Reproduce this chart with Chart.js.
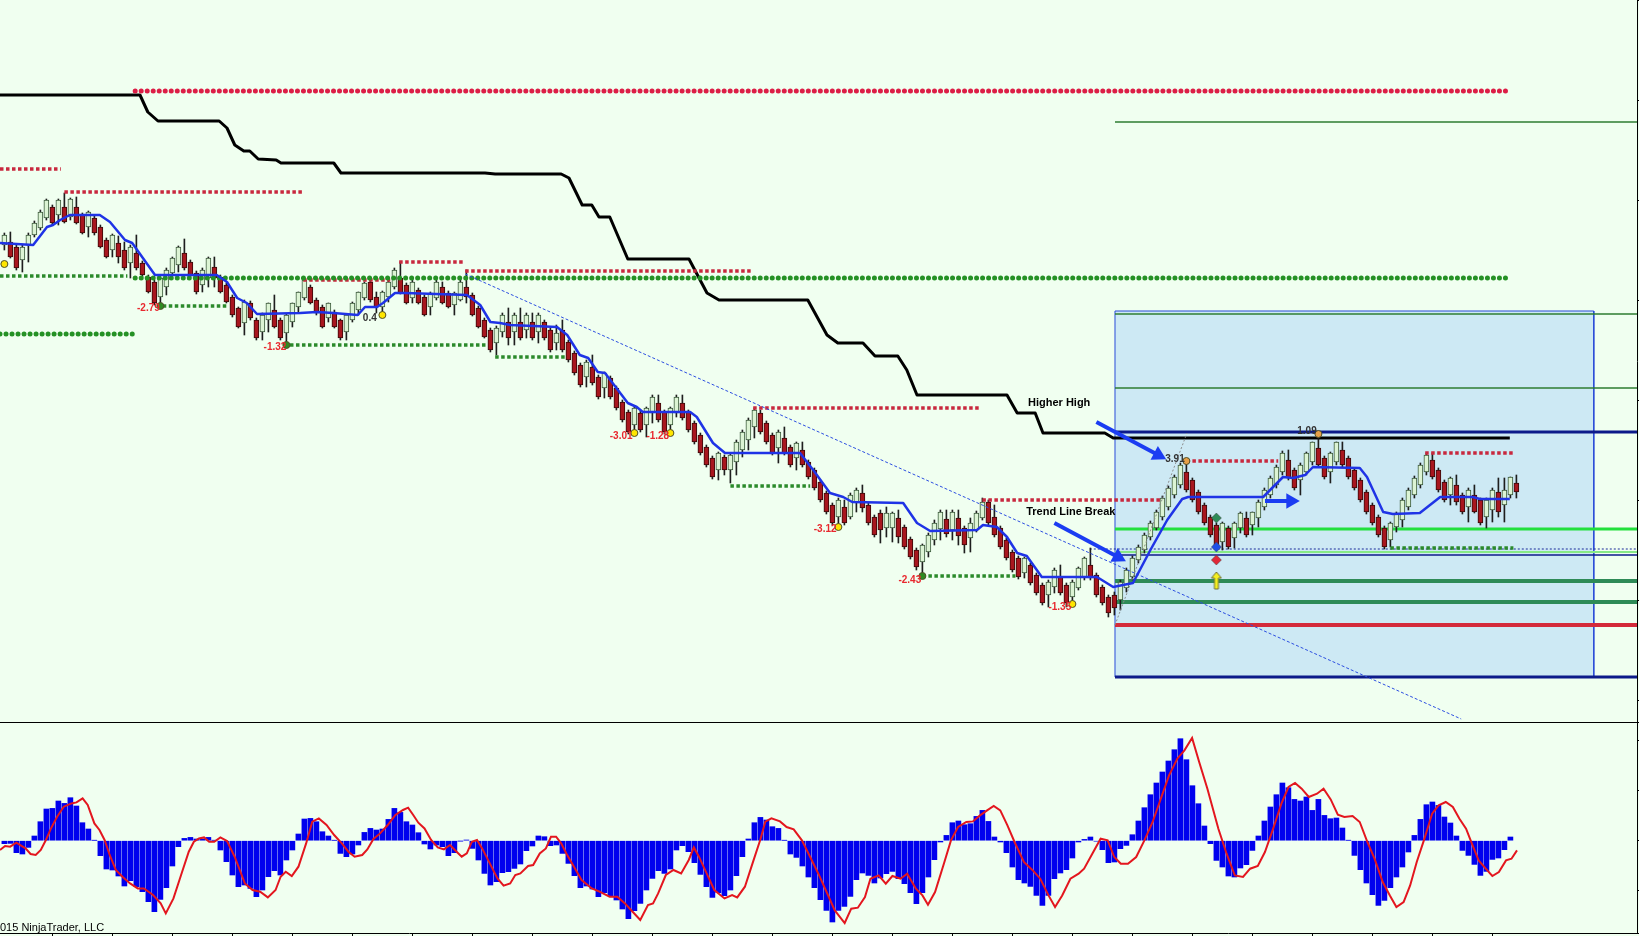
<!DOCTYPE html>
<html>
<head>
<meta charset="utf-8">
<title>Trend Line Break</title>
<script src="https://cdn.jsdelivr.net/npm/chart.js@4.4.1/dist/chart.umd.min.js"></script>
<style>
  html, body { margin: 0; padding: 0; background: #f0fff0; overflow: hidden; }
  #price { position: absolute; left: 0; top: 0; }
  #osc { position: absolute; left: 0; top: 722px; }
  #sep { position: absolute; left: 0; top: 722px; width: 1639px; height: 1px; background: #000; }
</style>
</head>
<body>
<canvas id="price" width="1639" height="722"></canvas>
<canvas id="osc" width="1639" height="214"></canvas>
<div id="sep"></div>
<script>
// ---- price bars (bar index 0..252) ----
const openP = [
  755,758,753,740,755,765,772,782,793,785, 793,783,793,785,773,782,773,760,750,757,
  750,737,747,737,723,718,703,713,727,735, 747,738,727,715,722,733,723,715,703,692,
  677,697,680,668,680,690,680,667,678,693, 702,713,700,693,682,688,680,668,680,690,
  702,718,703,693,703,713,722,715,702,710, 703,693,702,713,707,695,700,713,705,692,
  680,670,657,668,678,668,678,670,678,668, 678,670,657,670,658,647,635,623,633,623,
  612,622,612,598,588,575,587,575,587,597, 588,575,587,597,588,577,565,553,542,530,
  543,530,538,550,560,573,587,577,565,552, 562,553,542,550,538,530,518,507,495,483,
  493,483,498,507,495,483,487,472,472,482, 473,461,450,438,448,460,471,481,470,482,
  472,462,470,482,498,483,472,460,448,442, 427,435,425,415,405,413,423,415,403,412,
  423,435,425,413,403,405,400,412,423,440, 450,463,472,483,493,505,515,528,520,508,
  495,483,475,458,472,462,472,482,475,482, 493,505,515,528,540,530,520,528,538,552,
  542,528,538,550,542,530,520,508,495,483, 472,460,473,480,493,505,515,528,540,530,
  518,505,515,505,493,505,500,483,490,508, 495,505,517
];
const highP = [
  767,768,755,755,767,779,790,801,795,801, 807,802,803,787,789,784,775,762,766,764,
  758,755,765,739,725,720,722,732,743,754, 761,740,729,732,743,743,725,717,705,693,
  700,699,682,687,697,705,682,686,697,708, 722,715,702,695,697,690,681,685,698,708,
  718,720,708,709,722,732,738,717,722,712, 705,708,720,718,709,708,720,730,707,694,
  682,672,674,687,692,687,692,687,687,687, 680,672,675,680,660,649,637,640,645,625,
  628,624,614,600,590,593,589,593,605,605, 590,593,605,605,590,579,567,555,544,548,
  545,547,560,570,582,592,590,579,567,570, 573,555,558,558,540,532,520,509,497,502,
  500,507,512,515,497,485,490,493,488,490, 475,463,452,456,467,480,490,490,490,490,
  474,482,489,502,500,495,474,462,450,444, 443,437,427,417,420,432,435,417,420,433,
  443,452,427,415,405,408,420,432,444,455, 467,479,490,504,514,525,537,539,522,510,
  497,485,477,478,474,478,488,488,488,500, 512,524,535,549,550,532,537,548,558,566,
  544,548,558,558,544,532,522,510,497,485, 474,478,488,502,512,524,537,547,547,532,
  520,523,525,507,512,515,502,502,512,522, 522,523,525
];
const lowP = [
  750,742,730,728,738,763,770,780,775,775, 777,780,776,766,763,765,752,742,743,737,
  730,722,730,723,707,695,695,705,725,728, 730,723,706,708,713,713,707,697,683,672,
  665,680,660,660,668,672,660,652,673,687, 700,696,685,672,678,672,660,660,678,685,
  700,698,687,687,698,711,706,696,697,696, 684,685,700,696,692,685,699,697,684,672,
  662,648,645,663,655,655,660,662,660,657, 660,648,650,648,638,625,613,613,615,601,
  602,601,590,578,566,568,568,563,577,578, 566,567,583,580,568,556,545,533,521,520,
  525,517,525,543,550,562,566,556,545,537, 545,533,530,533,521,510,498,486,475,473,
  475,481,488,488,475,463,457,463,458,457, 451,441,430,424,443,455,460,463,460,455,
  447,448,468,480,475,463,451,440,428,421, 422,415,405,395,393,407,405,393,396,410,
  420,420,403,395,383,385,390,408,420,437, 447,460,470,480,490,502,512,508,498,486,
  475,463,451,450,451,452,467,463,465,473, 490,502,512,525,520,510,505,525,535,533,
  521,517,535,533,521,510,498,486,475,463, 451,453,468,473,490,502,512,525,521,508,
  498,495,495,486,478,487,475,472,478,483, 478,502,502
];
const closeP = [
  765,743,732,753,765,777,788,800,777,800, 778,801,777,767,788,767,753,743,765,743,
  732,753,732,725,708,697,722,730,742,753, 732,725,708,730,742,722,708,698,685,673,
  698,682,662,685,697,673,662,685,697,708, 720,697,687,673,697,673,662,685,697,708,
  717,700,693,708,718,730,707,697,718,697, 685,707,718,697,693,707,718,703,685,673,
  663,650,672,685,662,685,662,685,662,685, 662,650,667,650,640,627,615,638,617,603,
  627,603,592,580,568,592,570,592,603,580, 568,592,603,582,570,558,547,535,523,547,
  530,545,558,568,580,590,568,558,547,568, 547,535,557,535,523,512,500,488,477,500,
  477,505,510,492,477,465,470,487,487,463, 453,443,433,455,465,477,488,466,488,464,
  455,477,487,498,477,465,453,442,430,423, 442,417,407,397,418,430,407,397,418,432,
  442,422,405,397,387,392,418,430,442,453, 465,477,488,502,512,523,535,510,500,488,
  477,465,453,477,453,477,487,465,488,498, 510,522,533,547,522,512,535,547,558,535,
  523,547,558,535,523,512,500,488,477,465, 453,477,487,500,510,522,535,545,523,510,
  500,522,498,488,510,488,477,500,510,488, 510,523,508
];

// moving average (blue) vertices: bar index / price
const maX = [-0.73,4.8,7.1,8.1,9.3,10.9,15.9,17.6,20.1,21.3,25.1,27.6,35.4,37.1,38.8,40.4,42.1,49.3,52.1,54.8,
  58.9,60.1,62.1,63.1,65.1,66.8,77.1,79.3,81.0,82.6,84.3,92.1,93.8,95.9,97.3,98.9,100.1,103.9,105.4,106.4,
  114.3,115.4,118.1,120.1,132.6,134.8,137.6,139.8,141.3,149.8,152.1,154.3,162.1,163.1,165.4,167.1,168.8,170.4,172.9,182.1,
  184.8,188.1,191.0,193.8,196.3,197.3,209.8,213.1,214.8,216.8,218.1,225.9,227.1,229.8,231.4,235.9,239.3,244.8,245.9,250.9];
const maP = [757,755,773,775,780,785,785,778,760,757,725,725,725,718,702,697,686,687,688,687,
  685,693,693,697,707,707,705,695,678,677,675,673,665,645,642,628,627,597,593,588,
  588,583,557,547,547,530,507,503,498,497,477,469,470,475,473,463,447,444,423,423,
  413,417,450,480,501,503,503,523,522,525,533,532,523,488,486,487,503,503,501,501];

// stepped black line vertices
const blkX = [-0.73,22.6,23.9,25.6,35.8,37.1,38.4,39.9,40.9,42.3,45.3,46.1,54.9,56.1,80.1,81.8,92.8,94.1,96.3,97.9,
  99.1,100.9,103.9,114.1,117.1,119.1,133.9,137.1,138.9,143.1,145.1,148.9,150.4,152.1,167.1,168.8,171.8,173.1,183.4,184.8,250.9];
const blkP = [905,905,888,879,879,872,855,849,849,841,840,837,837,827,827,826,826,822,795,795,
  783,783,741,741,707,700,700,665,657,657,644,644,630,605,605,587,587,567,567,562,562];

// dotted swing levels: start, end, price, kind
const lvlX0 = [21.8,21.8,-0.73,-0.73,10,-0.73,26.4,49.8,47.6,65.8,76.8,81.8,121,124.8,153,163,197,236.8,231];
const lvlX1 = [251,251,21.5,9.4,50,20.5,37.3,64.3,80.2,76.4,124.4,93.4,134.3,162.6,168.5,193,212.3,251.5,251.5];
const lvlP  = [909,722,666,831,808,724,694,720,655,738,729,643,514,592,424,500,539,547,452];
const lvlKind = ['rb','gb','gb','rs','rs','gs','gs','rs','gs','rs','rs','gs','gs','rs','gs','rs','rs','rs','gs'];

// horizontal lines across the box area
const hlX0 = [185.1,185.1,185.1,185.1,185.1,180.9,185.1,185.1,185.1,185.1,185.1,185.1];
const hlX1 = [272.4,272.4,272.4,272.4,272.4,272.4,272.4,272.4,272.4,272.4,272.4,272.4];
const hlP  = [878,686,612,568,471,451,448,445,419,398,375,323];
const hlKind = ['thin','thin','thin','navy','lime','dash','pale','navyThin','green','green','red','navy'];

// box, trend line, helper line
const boxX = [185.1, 264.9];
const boxP = [689, 323];
const trX = [76.8, 242.8], trP = [726, 281];
const grX = [185.1, 197.1], grP = [375, 567];

// arrows
const arX0 = [182.0, 175.0, 210.1], arP0 = [578, 477, 499];
const arX1 = [192.3, 185.6, 214.4], arP1 = [545, 443, 499];
const arRot = [118, 118, 90];

// swing dots and markers
const dotX = [0,26,47,63,105,111,139,153,178,197,219];
const dotP = [736,694,655,685,567,567,473,424,396,539,566];
const dotKind = ['y','g','g','y','y','y','y','g','y','o','o'];
const diaX = [202,202,202], diaP = [482,453,440];
const upX = [202], upP = [419.5];

// texts
const noteText = ['-2.79','-1.32','0.4','-3.01','-1.28','-3.12','-2.43','-1.35','3.91','1.09','Higher High','Trend Line Break'];
const noteX = [24.0,45.1,60.9,102.8,108.9,136.8,150.9,175.9,195.1,217.1,170.6,170.3];
const noteP = [692,653,682,564,564,471,420,393,541,569,597,488];
const noteKind = ['neg','neg','pos','neg','neg','neg','neg','neg','pos','pos','big','big'];

// ---- oscillator ----
const histV = [
  -0.3,-0.27,-1.2,-1.33,-0.67,0.47,1.9,3.17,3.23,3.97, 3.73,4.3,3.47,1.8,1.17,0.03,-1.5,-2.83,-2.93,-3.53,
  -4.53,-4.0,-4.6,-5.1,-6.1,-7.1,-5.87,-4.7,-2.53,-0.6, 0.23,0.33,0.17,0.17,0.33,0.03,-0.93,-2.1,-3.43,-4.6,
  -4.43,-4.77,-5.6,-4.93,-3.6,-3.0,-3.43,-1.93,-0.93,0.67, 2.17,2.23,1.9,0.9,0.47,0.03,-1.27,-1.6,-1.33,-0.43,
  0.83,1.23,1.07,1.17,2.13,3.23,2.83,1.9,1.57,0.8, -0.33,-0.83,-0.43,-0.6,-1.5,-1.2,-0.03,0.07,-0.77,-1.93,
  -3.27,-4.43,-4.1,-3.2,-3.1,-2.77,-2.33,-1.0,-0.53,0.47, 0.4,-0.5,-0.43,-1.27,-2.27,-3.5,-4.7,-4.53,-4.83,-5.6,
  -5.2,-5.5,-5.93,-6.83,-7.8,-7.0,-6.27,-4.93,-3.77,-3.0, -3.27,-2.83,-0.93,-0.5,-1.1,-2.2,-3.37,-4.6,-5.67,-5.2,
  -5.5,-4.93,-3.5,-1.6,0.17,1.8,2.33,2.07,1.4,1.23, 0.03,-1.33,-1.67,-2.53,-3.63,-4.7,-5.9,-6.97,-8.13,-6.97,
  -6.57,-5.57,-3.9,-3.23,-3.47,-4.23,-3.73,-3.3,-3.07,-3.8, -4.3,-5.2,-6.3,-5.2,-3.63,-1.9,-0.13,0.53,1.8,1.97,
  1.6,1.7,2.43,3.03,1.93,0.37,-0.13,-1.2,-2.63,-3.9, -4.23,-4.57,-5.47,-6.47,-5.47,-3.8,-3.23,-2.9,-1.73,-0.13,
  0.13,0.37,-0.05,-0.9,-2.2,-2.13,-0.8,-0.47,0.6,1.97, 3.3,4.6,5.77,6.87,7.97,9.1,10.2,8.1,5.5,3.7,
  1.47,-0.3,-1.97,-2.63,-3.53,-3.63,-2.73,-2.4,-0.97,0.47, 1.97,3.37,4.6,5.77,5.3,4.13,3.97,4.37,3.03,4.13,
  2.53,2.2,2.27,1.27,0.03,-1.47,-2.9,-4.23,-5.4,-6.47, -5.97,-4.7,-3.63,-2.63,-1.13,0.53,2.13,3.6,3.87,3.53,
  2.37,1.77,0.47,-0.97,-1.47,-2.37,-3.47,-3.07,-1.87,-1.73, -0.9,0.37,null
];
const sigX = [-0.73,0.12,0.97,1.99,3.52,4.37,5.22,6.07,6.92,7.77, 8.79,9.9,11.17,12.02,13.04,13.89,15.0,15.85,16.7,17.55,
  18.57,19.68,20.95,22.23,23.25,24.78,26.05,26.9,28.18,29.45, 30.73,31.58,32.43,33.28,34.13,34.98,36.0,37.11,38.38,39.23,
  40.08,41.36,42.63,43.91,45.2,46.04,46.89,47.9,49.01,50.29, 51.31,52.41,53.69,54.96,56.24,57.34,58.37,59.64,60.49,61.51,
  62.62,63.89,65.17,66.44,67.29,68.14,68.99,70.02,71.12,72.23, 73.25,74.27,75.37,76.22,77.07,77.92,78.77,79.63,80.9,82.18,
  83.2,84.3,85.15,86.0,87.28,88.13,89.23,90.25,91.1,91.95, 92.8,93.66,94.93,96.2,97.9,99.18,100.88,102.16,103.43,104.71,
  105.98,107.26,108.11,108.96,110.24,111.51,112.79,114.06,114.91,115.76, 117.04,118.32,120.02,121.29,122.14,123.42,124.69,125.97,126.82,127.84,
  129.27,130.37,131.55,132.92,134.3,135.66,137.03,138.4,140.05,141.14, 142.24,143.43,144.34,145.71,146.9,148.0,149.36,150.46,151.92,153.01,
  153.93,155.11,156.67,157.76,158.95,160.32,161.42,162.6,163.79,164.89, 165.98,167.17,168.36,169.91,171.28,172.65,174.02,175.11,176.3,177.67,
  179.04,179.95,181.32,182.7,183.88,184.98,186.07,187.26,188.63,190.0, 191.37,192.74,194.11,195.48,196.67,197.95,199.13,200.5,202.33,203.7,
  205.07,206.44,207.62,208.9,210.09,211.46,212.83,214.02,215.11,216.21, 217.4,218.77,219.86,221.05,222.24,223.33,224.7,225.89,227.17,228.36,
  229.72,230.91,232.0,233.2,234.29,235.39,236.58,237.95,239.04,240.23, 241.41,242.51,243.61,244.52,245.71,246.89,247.99,249.08,250.27,251.18,
  252.1];
const sigV = [-0.93,-0.53,-0.6,-0.2,-0.77,-1.33,-1.43,-0.93,0.07,1.23, 2.4,3.4,3.73,3.83,4.23,3.57,1.73,1.07,0.07,-1.43,
  -2.93,-3.6,-4.27,-4.77,-4.77,-5.43,-6.27,-7.27,-5.77,-3.43, -1.1,-0.1,0.23,0.33,-0.1,-0.1,0.33,-0.03,-1.6,-2.93,
  -4.27,-4.93,-5.1,-5.67,-4.93,-3.6,-3.1,-3.53,-2.6,-0.27, 1.9,2.23,1.57,0.57,-0.27,-1.1,-1.6,-1.43,-0.87,0.17,
  0.73,1.57,2.57,3.07,3.3,2.57,1.8,1.23,0.07,-0.67, -0.87,-0.43,-1.1,-1.6,-1.27,-0.1,0.07,-0.77,-2.27,-3.77,
  -4.5,-4.27,-3.43,-3.27,-2.53,-2.43,-1.27,-0.77,0.4,0.4, -0.27,-1.27,-2.6,-3.93,-4.77,-5.1,-5.6,-5.6,-6.27,-7.1,
  -7.93,-6.43,-6.27,-5.27,-3.43,-2.93,-3.27,-1.93,-0.67,-1.6, -3.27,-4.93,-5.77,-5.43,-5.67,-4.6,-2.27,0.07,1.9,2.23,
  1.93,1.37,1.13,0.03,-1.63,-3.3,-5.13,-6.97,-8.23,-6.8, -6.7,-5.63,-3.8,-3.47,-4.3,-3.53,-3.8,-3.3,-4.8,-5.47,
  -6.4,-5.13,-2.13,0.03,1.37,1.87,1.93,2.53,3.03,3.47, 3.03,1.53,-0.13,-2.13,-2.9,-3.8,-5.47,-6.63,-5.47,-3.8,
  -3.3,-2.8,-1.3,0.2,0.03,-1.63,-2.3,-2.3,-1.63,0.03, 1.87,4.2,6.53,8.2,9.03,10.27,7.87,5.2,1.2,-1.3,
  -3.47,-3.63,-2.8,-2.53,-1.13,1.2,3.7,5.37,5.77,5.2, 4.37,4.7,5.2,4.13,2.6,2.37,2.47,1.87,-0.13,-1.8,
  -4.13,-5.47,-6.63,-6.13,-4.47,-2.13,0.03,2.7,3.53,3.87, 3.37,2.2,1.2,-0.2,-1.97,-2.8,-3.53,-3.13,-1.97,-1.8,
  -0.97];
const timeTicks = [8,18,28,38,48,58,68,78,88,98,108,118,128,138,148,158,168,178,188,198,208,218,228,238,248];

// ---- look ----
const X_MIN = -0.73, X_MAX = 272.1;
const upFill = '#dcf4d4', upEdge = '#3c5a3c', dnFill = '#a8161e', dnEdge = '#3a0a0a';
const lvlStyle = {
  rb: { color: '#dc1e46', width: 5, dash: [0.01, 6], cap: 'round' },
  gb: { color: '#259125', width: 5, dash: [0.01, 6], cap: 'round' },
  rs: { color: '#c8283e', width: 3.5, dash: [3.5, 2.5], cap: 'butt' },
  gs: { color: '#2b8a2b', width: 3.5, dash: [3.5, 2.5], cap: 'butt' }
};
const hlStyle = {
  thin: { color: '#2e7d32', width: 1.5, dash: [] },
  navy: { color: '#0c1a8a', width: 3, dash: [] },
  navyThin: { color: '#0c1a8a', width: 1.5, dash: [] },
  lime: { color: '#22e03c', width: 3, dash: [] },
  dash: { color: '#1a2a9a', width: 1, dash: [2, 2] },
  pale: { color: '#86e886', width: 2, dash: [] },
  green: { color: '#2e8b57', width: 4, dash: [] },
  red: { color: '#d42a3a', width: 4, dash: [] }
};
const dotFill = { y: '#ffe600', g: '#2e8b22', o: '#e8a048' };
const noteStyle = {
  neg: { font: 'bold 10px "Liberation Sans", Arial, sans-serif', color: '#e8282e', align: 'center' },
  pos: { font: 'bold 10px "Liberation Sans", Arial, sans-serif', color: '#333333', align: 'center' },
  big: { font: 'bold 11px "Liberation Sans", Arial, sans-serif', color: '#000000', align: 'left' }
};

const bars = closeP.map((_, i) => i);
const isUp = i => closeP[i] >= openP[i];

const line = (xs, ys, extra) => Object.assign({
  type: 'line',
  data: xs.map((x, k) => ({ x, y: ys[k] })),
  pointRadius: 0, borderWidth: 1, fill: false, tension: 0
}, extra);

function upArrowImage() {
  const c = document.createElement('canvas');
  c.width = 12; c.height = 19;
  const g = c.getContext('2d');
  g.beginPath();
  g.moveTo(6, 1); g.lineTo(11, 7); g.lineTo(8, 7); g.lineTo(8, 18);
  g.lineTo(4, 18); g.lineTo(4, 7); g.lineTo(1, 7); g.closePath();
  g.fillStyle = '#f4f020'; g.fill();
  g.strokeStyle = '#707030'; g.lineWidth = 1; g.stroke();
  return c;
}

const priceSets = [];
// shaded box
priceSets.push(line(boxX, [boxP[0], boxP[0]], { fill: { value: boxP[1] }, backgroundColor: '#cde9f4', borderWidth: 0, order: 100 }));
priceSets.push(line([boxX[0], boxX[1], boxX[1], boxX[0], boxX[0]], [boxP[0], boxP[0], boxP[1], boxP[1], boxP[0]],
  { borderColor: '#2a4bd8', borderWidth: 1, order: 95 }));
hlP.forEach((p, k) => {
  const s = hlStyle[hlKind[k]];
  priceSets.push(line([hlX0[k], hlX1[k]], [p, p], { borderColor: s.color, borderWidth: s.width, borderDash: s.dash, order: 90 }));
});
// black stepped line
priceSets.push(line(blkX, blkP, { borderColor: '#000', borderWidth: 3, borderJoinStyle: 'round', order: 40 }));
// candles
priceSets.push({ type: 'bar', data: bars.map(i => ({ x: i, y: [lowP[i], highP[i]] })),
  backgroundColor: '#1e1e1e', barThickness: 1, grouped: false, order: 32 });
priceSets.push({ type: 'bar', data: bars.map(i => ({ x: i, y: [openP[i], closeP[i]] })),
  backgroundColor: bars.map(i => isUp(i) ? upFill : dnFill),
  borderColor: bars.map(i => isUp(i) ? upEdge : dnEdge),
  borderWidth: 1, borderSkipped: false, barThickness: 5, minBarLength: 1, grouped: false, order: 31 });
// swing levels
lvlP.forEach((p, k) => {
  const s = lvlStyle[lvlKind[k]];
  priceSets.push(line([lvlX0[k], lvlX1[k]], [p, p], { borderColor: s.color, borderWidth: s.width, borderDash: s.dash, borderCapStyle: s.cap, order: 28 }));
});
// trend line and helper
priceSets.push(line(trX, trP, { borderColor: '#2c4ee0', borderWidth: 1, borderDash: [3, 2], order: 26 }));
priceSets.push(line(grX, grP, { borderColor: '#8c8c8c', borderWidth: 1, borderDash: [2, 2], order: 24 }));
// moving average
priceSets.push(line(maX, maP, { borderColor: '#1f33e6', borderWidth: 2.5, borderJoinStyle: 'round', order: 20 }));
// arrows
arX0.forEach((x0, k) => {
  priceSets.push(line([x0, arX1[k]], [arP0[k], arP1[k]], {
    borderColor: '#1b3cf2', borderWidth: 4, pointStyle: 'triangle',
    pointRadius: [0, 9], pointRotation: [0, arRot[k]],
    pointBackgroundColor: '#1b3cf2', pointBorderColor: '#1b3cf2', pointBorderWidth: 0, order: 8
  }));
});
// dots and markers
priceSets.push({ type: 'line', data: dotX.map((x, k) => ({ x, y: dotP[k] })), showLine: false,
  pointRadius: 3.5, pointBackgroundColor: dotKind.map(d => dotFill[d]), pointBorderColor: '#505028', pointBorderWidth: 1, order: 5 });
priceSets.push({ type: 'line', data: diaX.map((x, k) => ({ x, y: diaP[k] })), showLine: false,
  pointStyle: 'rectRot', pointRadius: 5, pointBackgroundColor: ['#2e8b57', '#1e50e8', '#e02838'],
  pointBorderColor: '#404040', pointBorderWidth: 0.5, order: 5 });
priceSets.push({ type: 'line', data: upX.map((x, k) => ({ x, y: upP[k] })), showLine: false,
  pointStyle: upArrowImage(), pointRadius: 9, order: 5 });

const notesPlugin = {
  id: 'notes',
  afterDatasetsDraw(chart) {
    const { ctx, scales: { x, y } } = chart;
    ctx.save();
    ctx.textBaseline = 'middle';
    noteText.forEach((t, k) => {
      const s = noteStyle[noteKind[k]];
      ctx.font = s.font;
      ctx.fillStyle = s.color;
      ctx.textAlign = s.align;
      ctx.fillText(t, x.getPixelForValue(noteX[k]), y.getPixelForValue(noteP[k]));
    });
    ctx.restore();
  }
};

const creditPlugin = {
  id: 'credit',
  afterDraw(chart) {
    const { ctx } = chart;
    ctx.save();
    ctx.font = '11px "Liberation Sans", Arial, sans-serif';
    ctx.fillStyle = '#000';
    ctx.textBaseline = 'middle';
    const lead = ctx.measureText('© 2').width;
    ctx.fillText('© 2015 NinjaTrader, LLC', -lead, chart.chartArea.bottom - 5);
    ctx.restore();
  }
};

const baseOptions = {
  responsive: false, animation: false, devicePixelRatio: 1, events: [],
  layout: { padding: 0, autoPadding: false },
  plugins: { legend: { display: false }, tooltip: { enabled: false } }
};
const rightAxis = (min, max) => ({
  type: 'linear', position: 'right', min, max,
  ticks: { display: false },
  grid: { drawOnChartArea: false, tickLength: 2, color: '#000' },
  border: { color: '#000' }
});

new Chart(document.getElementById('price'), {
  type: 'bar',
  data: { datasets: priceSets },
  options: Object.assign({}, baseOptions, {
    scales: {
      x: { type: 'linear', min: X_MIN, max: X_MAX, offset: false, display: false, grid: { offset: false } },
      y: rightAxis(278, 1000)
    }
  }),
  plugins: [notesPlugin]
});

new Chart(document.getElementById('osc'), {
  type: 'bar',
  data: {
    datasets: [
      line(sigX, sigV, { borderColor: '#e3161e', borderWidth: 2, order: 1 }),
      { type: 'bar', data: bars.filter(i => histV[i] !== null).map(i => ({ x: i, y: histV[i] })),
        backgroundColor: '#0000ee', barThickness: 5, grouped: false, order: 2 }
    ]
  },
  options: Object.assign({}, baseOptions, {
    scales: {
      x: {
        type: 'linear', min: X_MIN, max: X_MAX, offset: false, position: 'bottom',
        ticks: { display: false },
        grid: { drawOnChartArea: false, tickLength: 3, color: '#000', offset: false },
        border: { color: '#000' },
        afterBuildTicks: s => { s.ticks = timeTicks.map(v => ({ value: v })); }
      },
      y: rightAxis(-9.23, 11.87)
    }
  }),
  plugins: [creditPlugin]
});
</script>
</body>
</html>
